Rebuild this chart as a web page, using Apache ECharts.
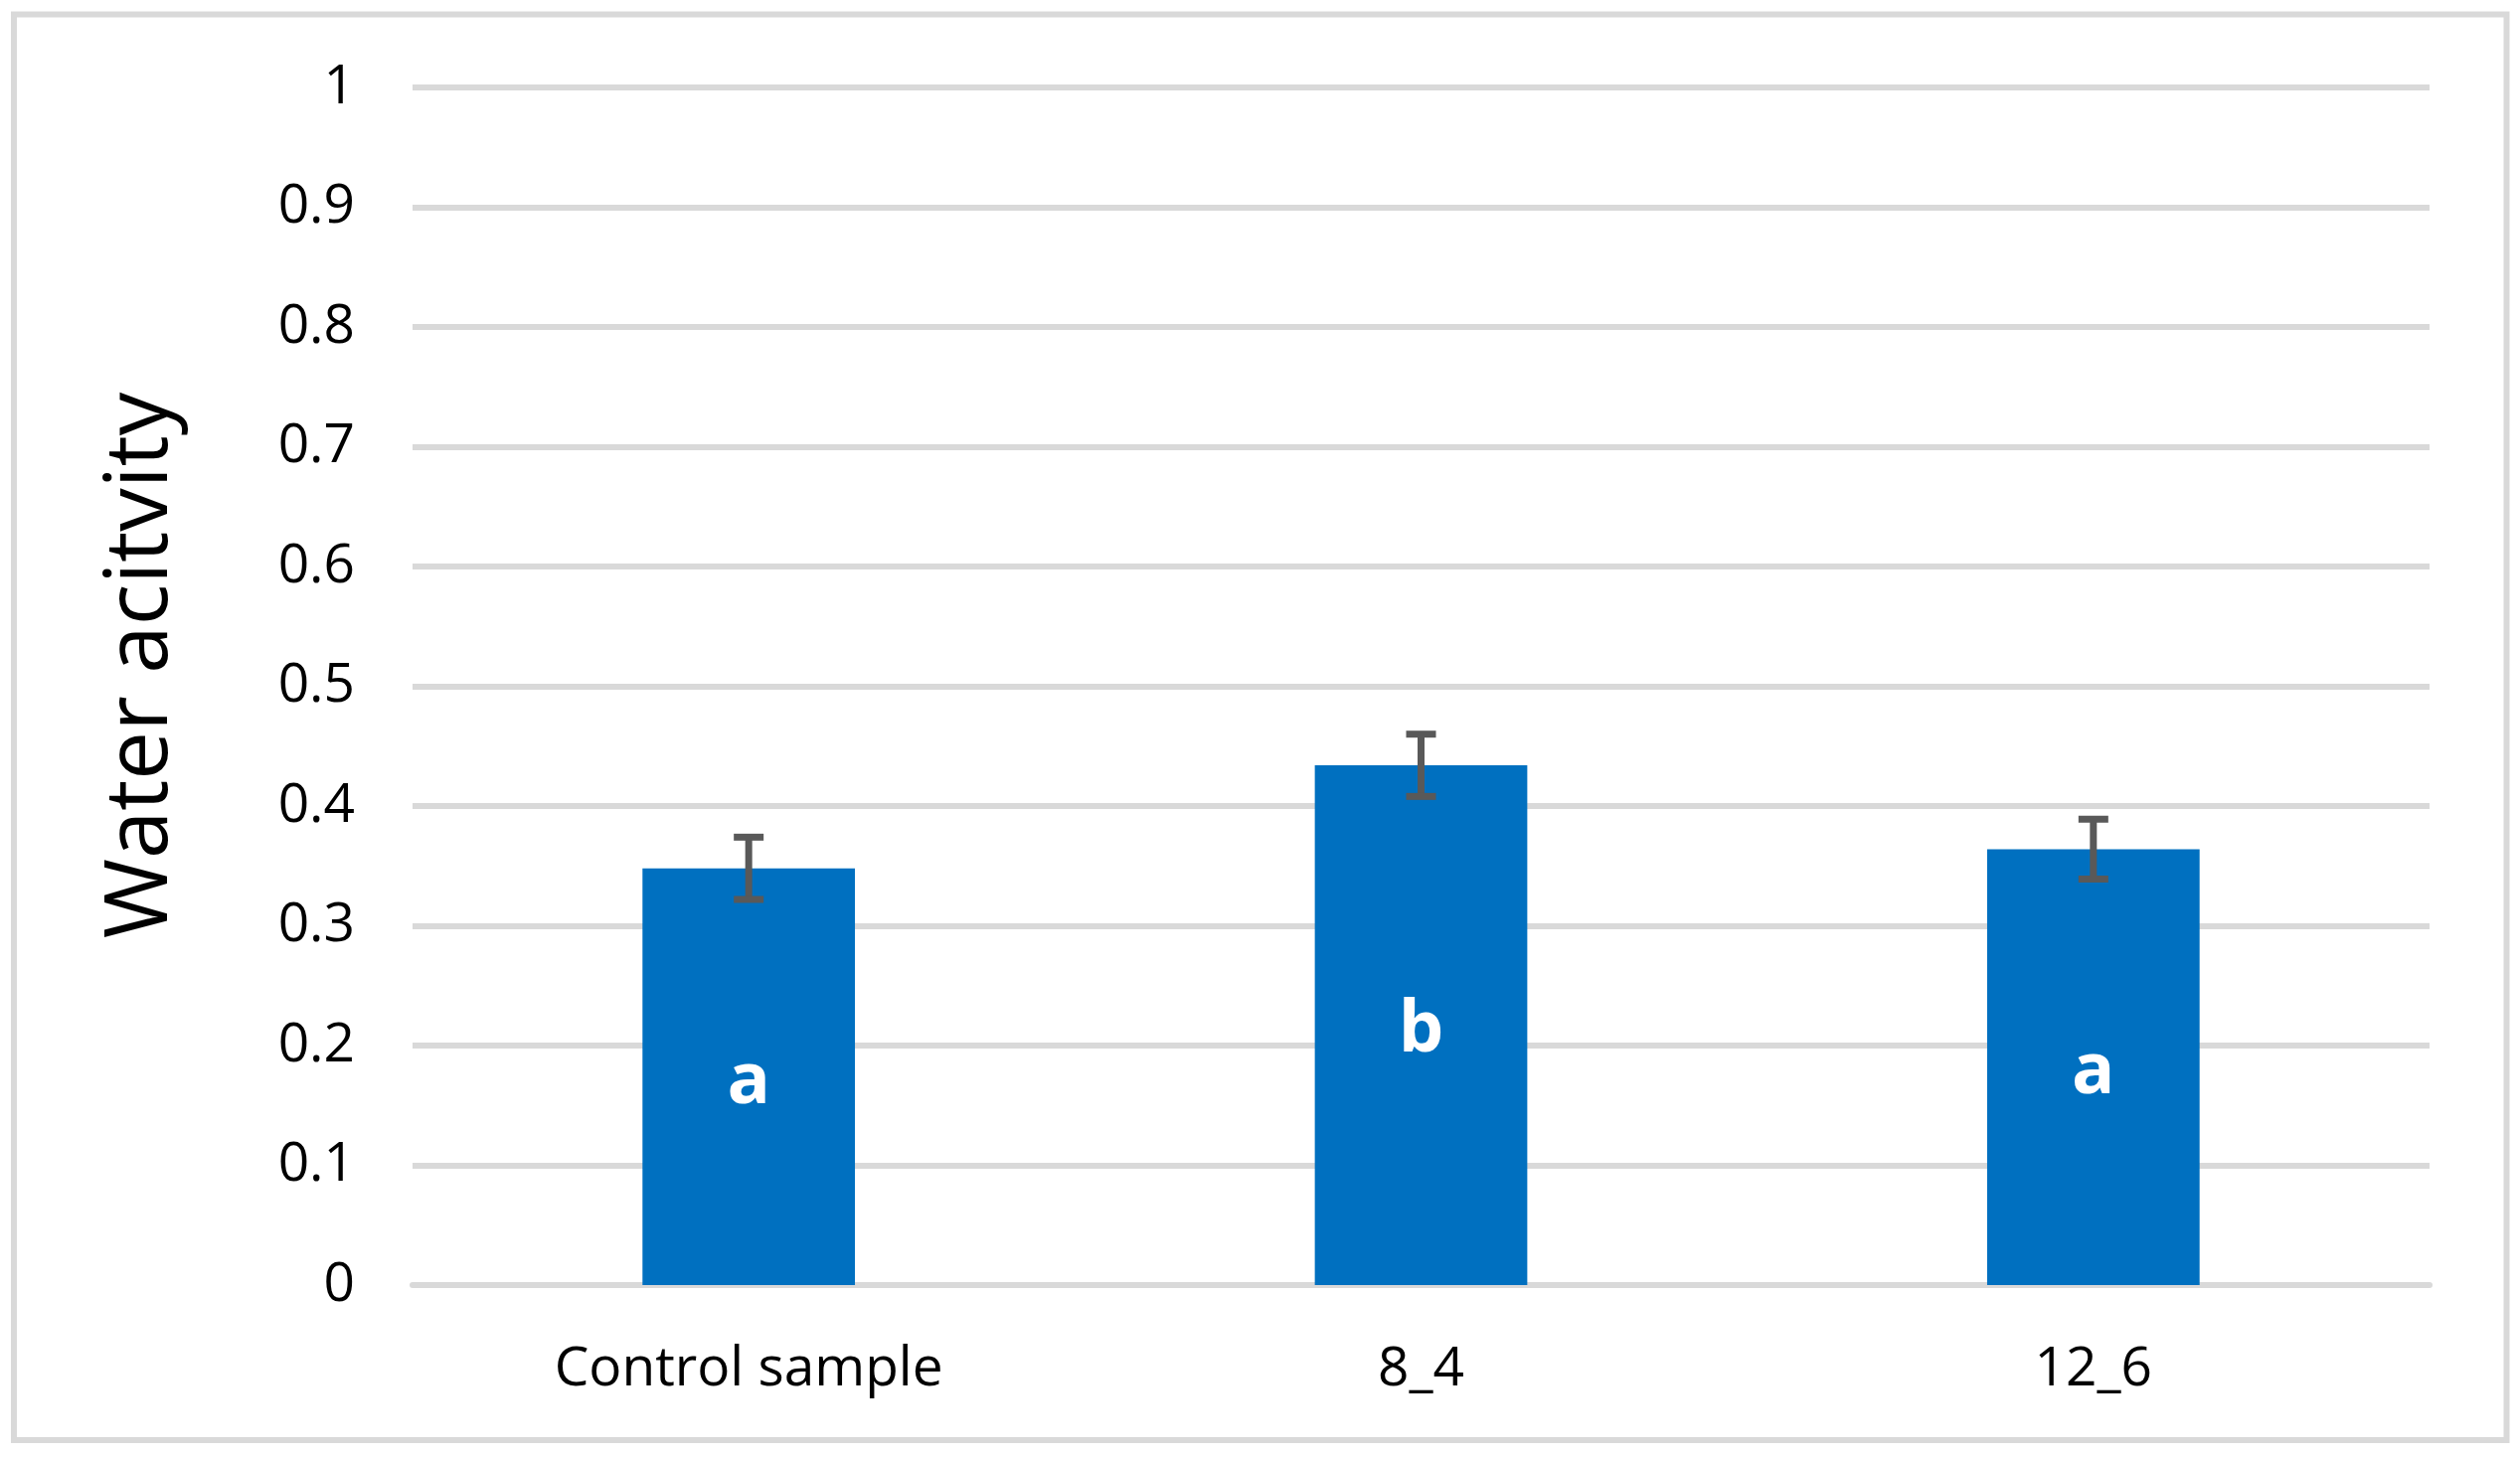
<!DOCTYPE html>
<html>
<head>
<meta charset="utf-8">
<script src="https://cdn.jsdelivr.net/npm/echarts@6/dist/echarts.min.js"></script>
<style>
html,body{margin:0;padding:0;background:#fff;}
#chart{width:2535px;height:1466px;}
</style>
</head>
<body>
<div id="chart"></div>
<script>
var categories = ['Control sample', '8_4', '12_6'];
var values = [0.348, 0.434, 0.364];
var errors = [0.026, 0.026, 0.025];
var letters = ['a', 'b', 'a'];
var yAxisTitle = 'Water acitvity';

var FONT = '"Open Sans", "Noto Sans", sans-serif';
var chart = echarts.init(document.getElementById('chart'), null, {renderer: 'canvas'});

var errData = values.map(function (v, i) { return [i, v - errors[i], v + errors[i]]; });

var option = {
  backgroundColor: '#ffffff',
  animation: false,
  grid: {left: 415, right: 91, top: 88, bottom: 173, containLabel: false},
  graphic: [{
    type: 'rect',
    shape: {x: 14, y: 14.5, width: 2507.5, height: 1434.5},
    style: {fill: 'none', stroke: '#d9d9d9', lineWidth: 6},
    silent: true
  }],
  xAxis: {
    type: 'category',
    data: categories,
    axisLine: {show: true, lineStyle: {color: '#d9d9d9', width: 6}},
    axisTick: {show: false},
    axisLabel: {fontFamily: FONT, fontSize: 55, color: '#000', margin: 58}
  },
  yAxis: {
    type: 'value',
    min: 0, max: 1, interval: 0.1,
    name: yAxisTitle,
    nameLocation: 'middle',
    nameGap: 228,
    nameRotate: 90,
    nameTextStyle: {fontFamily: FONT, fontSize: 87, color: '#000', padding: [0, 0, 0, 42]},
    axisLine: {show: false},
    axisTick: {show: false},
    splitLine: {show: true, lineStyle: {color: '#d9d9d9', width: 6}},
    axisLabel: {fontFamily: FONT, fontSize: 55, color: '#000', margin: 58}
  },
  series: [{
    type: 'bar',
    data: values,
    barWidth: '31.6%',
    itemStyle: {color: '#0070C0'},
    label: {
      show: true,
      position: 'inside',
      offset: [0, 6],
      formatter: function (p) { return letters[p.dataIndex]; },
      color: '#ffffff',
      fontFamily: FONT,
      fontWeight: 'bold',
      fontSize: 72
    },
    z: 2
  }, {
    type: 'custom',
    data: errData,
    z: 3,
    renderItem: function (params, api) {
      var i = api.value(0);
      var lo = api.coord([i, api.value(1)]);
      var hi = api.coord([i, api.value(2)]);
      var cx = lo[0];
      var half = 15;
      var st = {stroke: '#595959', lineWidth: 7, lineCap: 'butt'};
      return {
        type: 'group',
        children: [
          {type: 'line', shape: {x1: cx, y1: hi[1], x2: cx, y2: lo[1]}, style: st},
          {type: 'line', shape: {x1: cx - half, y1: hi[1], x2: cx + half, y2: hi[1]}, style: st},
          {type: 'line', shape: {x1: cx - half, y1: lo[1], x2: cx + half, y2: lo[1]}, style: st}
        ]
      };
    }
  }]
};
chart.setOption(option);
</script>
</body>
</html>
